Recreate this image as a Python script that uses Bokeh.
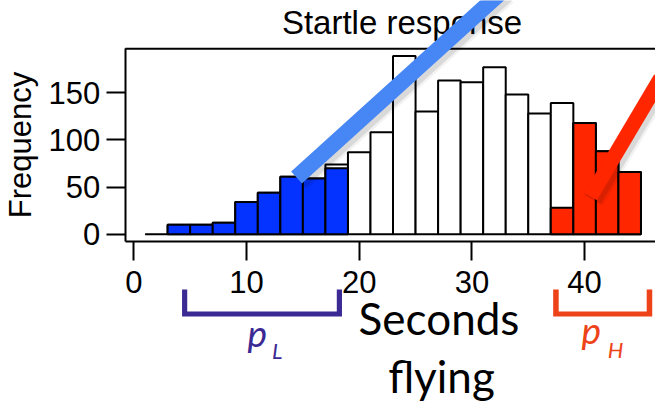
from bokeh.plotting import figure
from bokeh.models import Range1d, FixedTicker, Label, Arrow, PolyAnnotation, LinearAxis
from bokeh.embed import file_html
from bokeh.resources import INLINE

# ---------------- data ----------------
bin_left = [1, 3, 5, 7, 9, 11, 13, 15, 17, 19, 21, 23, 25, 27, 29, 31, 33, 35, 37, 39, 41, 43]
bin_width = 2
counts = [0, 10, 10, 12, 34, 44, 61, 59, 74, 87, 108, 189, 130, 163, 161, 177, 148, 128, 139, 118, 88, 66]
low_left = [3, 5, 7, 9, 11, 13, 15, 17]
low_counts = [10, 10, 12, 34, 44, 61, 59, 70]
high_left = [37, 39, 41, 43]
high_counts = [28, 118, 88, 66]
x_ticks = [0, 10, 20, 30, 40]
y_ticks = [0, 50, 100, 150]
title_text = "Startle response"
y_label = "Frequency"
x_label_lines = ["Seconds", "flying"]

# ---------------- figure ----------------
span_x = bin_left[-1] + bin_width - bin_left[0]
x_lo = bin_left[0] - 0.04 * span_x           # left edge of the box
x_hi = bin_left[-1] + bin_width + 0.04 * span_x
y_pad = 0.04 * max(counts)
y_lo = -y_pad                                # bottom edge of the box
y_hi = max(counts) + y_pad                   # top edge of the box

# the view reaches beyond the box so that the notes around it can be drawn
p = figure(width=655, height=402, output_backend="svg", toolbar_location=None,
           x_range=Range1d(-11.83, 46.29), y_range=Range1d(-178.5, 247.8),
           x_axis_type=None, y_axis_type=None, min_border=0)
p.outline_line_color = None
p.xgrid.visible = False
p.ygrid.visible = False
p.background_fill_color = "white"
p.border_fill_color = "white"

TICK_FONT = "Liberation Sans"
xaxis = LinearAxis(fixed_location=y_lo, bounds=(x_lo, x_hi))
yaxis = LinearAxis(fixed_location=x_lo, bounds=(y_lo, y_hi))
for ax, ticks in ((xaxis, x_ticks), (yaxis, y_ticks)):
    ax.ticker = FixedTicker(ticks=ticks)
    ax.minor_tick_line_color = None
    ax.major_tick_in = 0
    ax.major_tick_out = 19
    ax.major_tick_line_width = 2
    ax.major_tick_line_color = "black"
    ax.axis_line_width = 2
    ax.axis_line_color = "black"
    ax.major_label_text_font = TICK_FONT
    ax.major_label_text_font_size = "31px"
    ax.major_label_text_color = "black"
    ax.major_label_standoff = 6
xaxis.major_label_standoff = 11
yaxis.major_label_orientation = "horizontal"
yaxis.axis_label = y_label
yaxis.axis_label_text_font = TICK_FONT
yaxis.axis_label_text_font_size = "31px"
yaxis.axis_label_text_font_style = "normal"
yaxis.axis_label_text_color = "black"
yaxis.axis_label_standoff = 8
p.add_layout(xaxis, "below")
p.add_layout(yaxis, "left")

# top edge of the box
p.segment(x0=[x_lo], y0=[y_hi], x1=[x_hi], y1=[y_hi], line_color="black", line_width=2)

# histogram: all bins white, then the low and high subsets on top
p.quad(left=bin_left, right=[l + bin_width for l in bin_left], top=counts, bottom=0,
       fill_color="white", line_color="black", line_width=2)
p.quad(left=low_left, right=[l + bin_width for l in low_left], top=low_counts, bottom=0,
       fill_color="#0433FF", line_color="black", line_width=2)
p.quad(left=high_left, right=[l + bin_width for l in high_left], top=high_counts, bottom=0,
       fill_color="#FF2600", line_color="black", line_width=2)

def note(x, y, text, size, font="Lato", style="normal", color="black", align="center"):
    p.add_layout(Label(x=x, y=y, text=text, text_align=align, text_baseline="middle",
                       text_font=font, text_font_style=style, text_font_size=size,
                       text_color=color))

# title
note(23.8, 225.0, title_text, "33px", font=TICK_FONT)

# highlighter strokes with soft shadow
def stroke(x0, y0, x1, y1, color, width):
    for w, a in ((width + 8, 0.05), (width + 3, 0.10)):
        p.add_layout(Arrow(start=None, end=None, x_start=x0 + 0.22, y_start=y0 - 3.4,
                           x_end=x1 + 0.22, y_end=y1 - 3.4,
                           line_color="black", line_alpha=a, line_width=w, line_cap="butt"))
    p.add_layout(Arrow(start=None, end=None, x_start=x0, y_start=y0, x_end=x1, y_end=y1,
                       line_color=color, line_width=width, line_cap="butt"))

stroke(14.44, 60.1, 32.76, 258.4, "#4787F5", 16)
stroke(40.52, 39.9, 46.74, 165.4, "#FF2600", 15)

# brackets under the axis
def bracket(x0, x1, color, w=0.46):
    yt, yb, h = -58.7, -87.3, 5.4
    xs = [x0, x0, x1, x1, x1 - w, x1 - w, x0 + w, x0 + w]
    ys = [yt, yb, yb, yt, yt, yb + h, yb + h, yt]
    p.add_layout(PolyAnnotation(xs=xs, ys=ys, fill_color=color, fill_alpha=1.0,
                                line_color=None))

PURPLE = "#3B2A93"
ORANGE = "#EE4319"
bracket(4.28, 18.47, PURPLE)
bracket(37.21, 46.0, ORANGE, 0.49)

note(10.09, -104.7, "p", "37px", style="italic", color=PURPLE, align="left")
note(12.25, -123.7, "L", "22px", style="italic", color=PURPLE, align="left")
note(39.72, -101.5, "p", "37px", style="italic", color=ORANGE, align="left")
note(42.05, -121.9, "H", "22px", style="italic", color=ORANGE, align="left")

# big axis caption
note(27.08, -89.4, x_label_lines[0], "44px")
note(27.3, -150.5, x_label_lines[1], "44px")

open("out.html", "w").write(file_html(p, INLINE))
